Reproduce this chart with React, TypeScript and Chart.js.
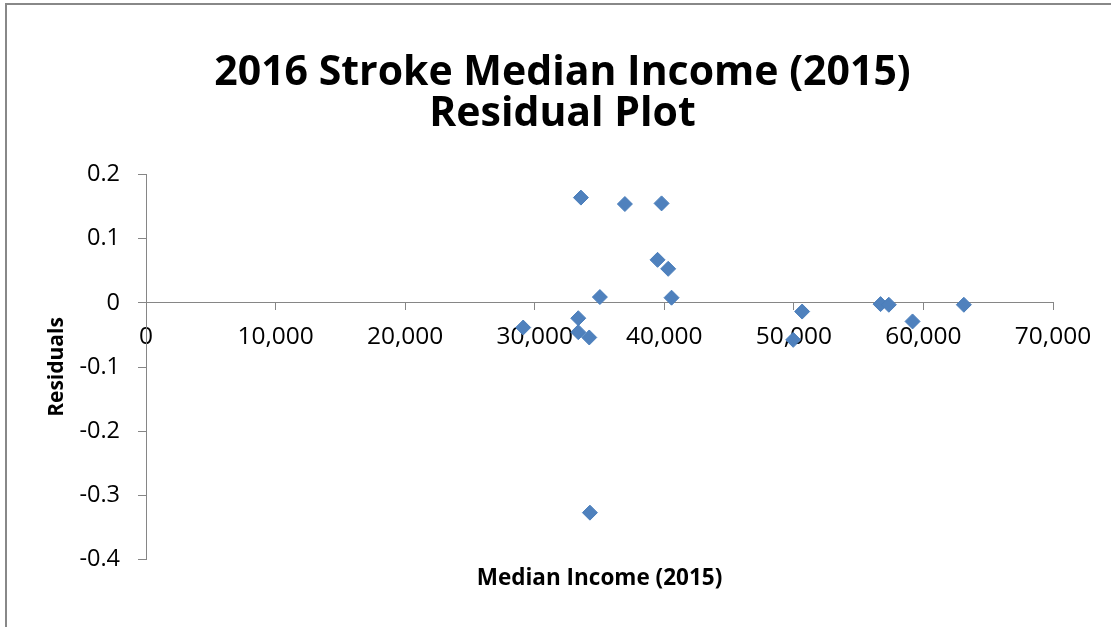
import React, { useEffect, useRef } from "react";
import { Chart, registerables } from "chart.js";

Chart.register(...registerables);

const titleLines = ["2016 Stroke Median Income (2015)", "Residual Plot"];
const xAxisTitle = "Median Income (2015)";
const yAxisTitle = "Residuals";

const incomeValues = [
  33565, 36960, 39790, 39480, 40300, 35030, 40560, 29110, 33360, 33360,
  34210, 34260, 50640, 49950, 56690, 57330, 59160, 63120,
];
const residualValues = [
  0.164, 0.154, 0.155, 0.067, 0.053, 0.009, 0.008, -0.0385, -0.024, -0.0457,
  -0.054, -0.327, -0.0136, -0.0577, -0.002, -0.003, -0.029, -0.003,
];

const xMin = 0;
const xMax = 70000;
const xStep = 10000;
const yMin = -0.4;
const yMax = 0.2;
const yStep = 0.1;

const FONT = "'Open Sans', sans-serif";
const AXIS_GRAY = "#868686";

export default function App() {
  const canvasRef = useRef<HTMLCanvasElement | null>(null);

  useEffect(() => {
    document.body.style.margin = "0";
    document.body.style.overflow = "hidden";
    const canvas = canvasRef.current;
    if (!canvas) return;
    const points = incomeValues.map((x, i) => ({ x, y: residualValues[i] }));
    const chart = new Chart(canvas, {
      type: "scatter",
      data: {
        datasets: [
          {
            label: "Residuals",
            data: points,
            pointStyle: "rectRot",
            pointRadius: 7.5,
            pointHoverRadius: 7.5,
            backgroundColor: "#4F81BD",
            borderColor: "#4A7EBB",
            borderWidth: 1,
          },
        ],
      },
      options: {
        animation: false,
        responsive: false,
        maintainAspectRatio: false,
        layout: { padding: { left: 14, right: 0, top: 0, bottom: 0 } },
        plugins: {
          legend: { display: false },
          tooltip: { enabled: false },
          title: {
            display: true,
            text: titleLines,
            color: "#000",
            font: { family: FONT, size: 41, weight: "bold", lineHeight: 1.0 },
            padding: { top: 53, bottom: 39.5 },
          },
        },
        scales: {
          x: {
            type: "linear",
            position: { y: 0 },
            min: xMin,
            max: xMax,
            ticks: {
              stepSize: xStep,
              color: "#000",
              font: { family: FONT, size: 24.5 },
              padding: 12,
              callback: (v: any) => Number(v).toLocaleString("en-US"),
            },
            grid: {
              drawOnChartArea: false,
              drawTicks: true,
              tickLength: 7,
              color: AXIS_GRAY,
            },
            border: { display: true, color: AXIS_GRAY, width: 1 },
          },
          xTitle: {
            type: "linear",
            axis: "x",
            position: "bottom",
            ticks: { display: false },
            grid: { display: false, drawTicks: false },
            border: { display: false },
            title: {
              display: true,
              text: xAxisTitle,
              color: "#000",
              font: { family: FONT, size: 22.5, weight: "bold", lineHeight: 1.2 },
              padding: { top: 6, bottom: 34.5 },
            },
          },
          y: {
            type: "linear",
            position: "left",
            min: yMin,
            max: yMax,
            afterFit: (s: any) => {
              s.width = 132;
            },
            ticks: {
              stepSize: yStep,
              color: "#000",
              font: { family: FONT, size: 23.5 },
              padding: 18,
              callback: (v: any) => String(Number(Number(v).toFixed(1))),
            },
            grid: {
              drawOnChartArea: false,
              drawTicks: true,
              tickLength: 8,
              color: AXIS_GRAY,
            },
            border: { display: true, color: AXIS_GRAY, width: 1 },
            title: {
              display: true,
              text: yAxisTitle,
              color: "#000",
              font: { family: FONT, size: 21, weight: "bold", lineHeight: 1.2 },
              padding: { top: 30, bottom: 0 },
            },
          },
          yRight: {
            type: "linear",
            axis: "y",
            position: "right",
            afterFit: (s: any) => {
              s.width = 58;
            },
            ticks: { display: false },
            grid: { display: false, drawTicks: false },
            border: { display: false },
          },
        },
      },
    });
    return () => chart.destroy();
  }, []);

  return (
    <div style={{ position: "relative", width: 1111, height: 627, overflow: "hidden" }}>
      <canvas ref={canvasRef} width={1111} height={627} style={{ display: "block" }} />
      <div
        style={{
          position: "absolute",
          left: 5,
          top: 3,
          width: 1200,
          height: 800,
          borderLeft: "2px solid #888",
          borderTop: "2px solid #888",
          pointerEvents: "none",
        }}
      />
    </div>
  );
}
